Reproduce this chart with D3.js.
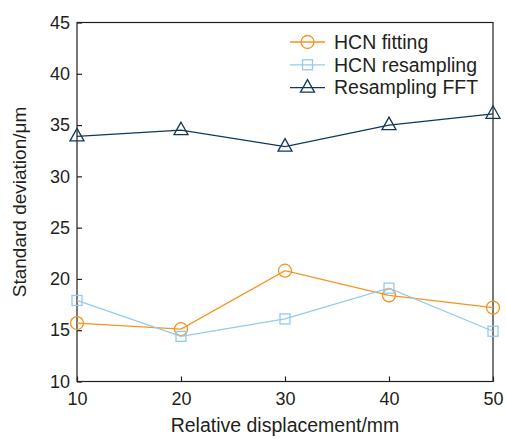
<!DOCTYPE html>
<html>
<head>
<meta charset="utf-8">
<script src="https://cdn.jsdelivr.net/npm/d3@7"></script>
<style>
  html, body { margin: 0; padding: 0; background: #fff; }
  svg { display: block; font-family: "Liberation Sans", Arial, sans-serif; }
</style>
</head>
<body>
<svg id="chart" width="506" height="439"></svg>
<script>
// Relative displacement (mm)
const displacement = [10, 20, 30, 40, 50];
// Standard deviation (µm) for each method
const hcnFitting = [15.7, 15.1, 20.8, 18.4, 17.2];
const hcnResampling = [17.9, 14.4, 16.1, 19.1, 14.9];
const resamplingFFT = [33.9, 34.5, 32.9, 35.0, 36.1];
const seriesNames = ["HCN fitting", "HCN resampling", "Resampling FFT"];
const xTicks = [10, 20, 30, 40, 50];
const yTicks = [10, 15, 20, 25, 30, 35, 40, 45];

const colors = ["#f7931e", "#94cbe9", "#10385a"];
const symbols = ["circle", "square", "triangle"];
const series = [hcnFitting, hcnResampling, resamplingFFT];

const svg = d3.select("#chart");
const margin = { left: 77, right: 13, top: 22.5, bottom: 57.5 };
const W = 506, H = 439;

const x = d3.scaleLinear().domain([10, 50]).range([margin.left, W - margin.right]);
const y = d3.scaleLinear().domain([10, 45]).range([H - margin.bottom, margin.top]);

const axisColor = "#231f20";

// Plot frame
svg.append("rect")
  .attr("x", x(10)).attr("y", y(45))
  .attr("width", x(50) - x(10)).attr("height", y(10) - y(45))
  .attr("fill", "none").attr("stroke", axisColor).attr("stroke-width", 1.2);

// Bottom axis: inward ticks
const xAxis = svg.append("g")
  .attr("transform", `translate(0,${y(10)})`)
  .call(d3.axisBottom(x).tickValues(xTicks).tickSizeInner(-5).tickSizeOuter(0).tickPadding(11));
// Left axis: inward ticks
const yAxis = svg.append("g")
  .attr("transform", `translate(${x(10)},0)`)
  .call(d3.axisLeft(y).tickValues(yTicks).tickSizeInner(-5).tickSizeOuter(0).tickPadding(7));

[xAxis, yAxis].forEach(g => {
  g.select(".domain").remove();
  g.selectAll("line").attr("stroke", axisColor).attr("stroke-width", 1.2);
  g.selectAll("text").attr("fill", axisColor).attr("font-size", 18)
    .attr("font-family", "Liberation Sans, Arial, sans-serif");
});
xAxis.selectAll("text").attr("dy", "0.71em");

// Axis titles
svg.append("text")
  .attr("x", (x(10) + x(50)) / 2).attr("y", 432)
  .attr("text-anchor", "middle").attr("font-size", 19.5).attr("fill", axisColor)
  .text("Relative displacement/mm");
svg.append("text")
  .attr("transform", `translate(26,${(y(10) + y(45)) / 2}) rotate(-90)`)
  .attr("text-anchor", "middle").attr("font-size", 19).attr("fill", axisColor)
  .text("Standard deviation/μm");

// Marker drawing
function marker(g, type, color) {
  if (type === "circle") {
    g.append("circle").attr("r", 6.5)
      .attr("fill", "none").attr("stroke", color).attr("stroke-width", 1.3);
  } else if (type === "square") {
    g.append("rect").attr("x", -5).attr("y", -5).attr("width", 10).attr("height", 10)
      .attr("fill", "none").attr("stroke", color).attr("stroke-width", 1.3);
  } else {
    g.append("path").attr("d", "M0,-8 L7,4.5 L-7,4.5 Z")
      .attr("fill", "none").attr("stroke", color).attr("stroke-width", 1.3);
  }
}

const line = d3.line().x((d, i) => x(displacement[i])).y(d => y(d));

series.forEach((vals, k) => {
  const g = svg.append("g");
  g.append("path").datum(vals).attr("d", line)
    .attr("fill", "none").attr("stroke", colors[k]).attr("stroke-width", 1.3);
  vals.forEach((v, i) => {
    const m = g.append("g").attr("transform", `translate(${x(displacement[i])},${y(v)})`);
    marker(m, symbols[k], colors[k]);
  });
});

// Legend
const legend = svg.append("g").attr("transform", "translate(290,42)");
seriesNames.forEach((name, k) => {
  const row = legend.append("g").attr("transform", `translate(0,${k * 22.8})`);
  row.append("line").attr("x1", 0).attr("x2", 35).attr("y1", 0).attr("y2", 0)
    .attr("stroke", colors[k]).attr("stroke-width", 1.3);
  const m = row.append("g").attr("transform", "translate(17.5,0)");
  marker(m, symbols[k], colors[k]);
  row.append("text").attr("x", 44).attr("y", 0).attr("dy", "0.35em")
    .attr("font-size", 19.5).attr("fill", axisColor).text(name);
});
</script>
</body>
</html>
